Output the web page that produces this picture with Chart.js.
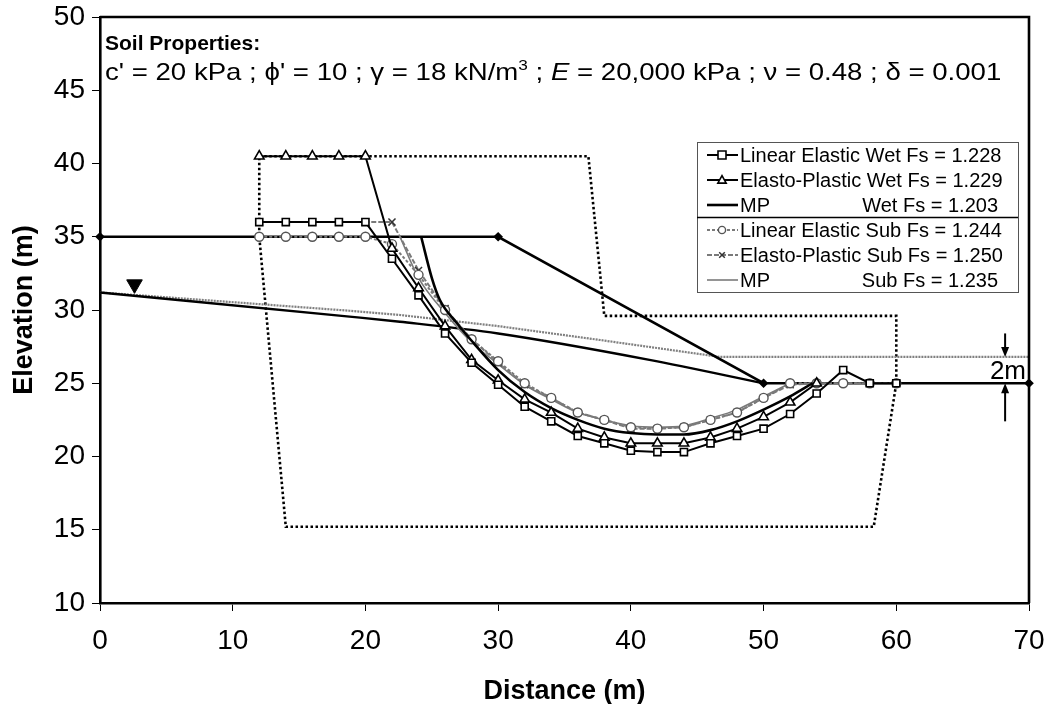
<!DOCTYPE html>
<html>
<head>
<meta charset="utf-8">
<script src="https://cdn.jsdelivr.net/npm/chart.js@4/dist/chart.umd.min.js"></script>
<style>
  html, body { margin: 0; padding: 0; background: #fff; }
  canvas { display: block; }
</style>
</head>
<body>
<canvas id="chart" width="1050" height="704"></canvas>
<script>
// Slip surfaces (distance m, elevation m)
const leWetX = [12, 14, 16, 18, 20, 22, 24, 26, 28, 30, 32, 34, 36, 38, 40, 42, 44, 46, 48, 50, 52, 54, 56, 58, 60];
const leWetY = [36, 36, 36, 36, 36, 33.5, 31, 28.4, 26.4, 24.9, 23.4, 22.4, 21.4, 20.9, 20.4, 20.3, 20.3, 20.9, 21.4, 21.9, 22.9, 24.3, 25.9, 25, 25];

const epWetX = [12, 14, 16, 18, 20, 22, 24, 26, 28, 30, 32, 34, 36, 38, 40, 42, 44, 46, 48, 50, 52, 54];
const epWetY = [40.5, 40.5, 40.5, 40.5, 40.5, 34.2, 31.5, 28.9, 26.6, 25.2, 23.9, 23.0, 21.9, 21.3, 20.9, 20.9, 20.9, 21.3, 21.9, 22.7, 23.7, 25];

const mpWetX = [24.2, 25, 25.6, 26.9, 28, 30, 32, 34, 36, 38, 40, 42, 44, 46, 48, 50, 52, 53.7];
const mpWetY = [35, 32.2, 30.7, 29.1, 27.9, 25.9, 24.4, 23.3, 22.5, 21.9, 21.6, 21.5, 21.5, 21.8, 22.4, 23.2, 24.1, 25];

const leSubX = [12, 14, 16, 18, 20, 22, 24, 26, 28, 30, 32, 34, 36, 38, 40, 42, 44, 46, 48, 50, 52, 54, 56, 58, 60];
const leSubY = [35, 35, 35, 35, 35, 34.5, 32.4, 30, 28, 26.5, 25, 24, 23, 22.5, 22, 21.9, 22, 22.5, 23, 24, 25, 25, 25, 25, 25];

const epSubX = [12, 14, 16, 18, 20, 22, 24, 26, 28, 30, 32, 34, 36, 38, 40, 42, 44, 46, 48, 50, 52, 54, 56, 58, 60];
const epSubY = [36, 36, 36, 36, 36, 36, 32.7, 30.1, 28, 26.4, 24.9, 24, 23, 22.5, 21.9, 21.9, 22, 22.5, 23, 24, 24.9, 25, 25, 25, 25];

const mpSubX = [22.6, 24, 26, 28, 30, 32, 34, 36, 38, 40, 42, 44, 46, 48, 50, 52];
const mpSubY = [35, 32.2, 29.8, 27.8, 26.3, 24.9, 23.9, 23.0, 22.5, 22.1, 22.0, 22.1, 22.6, 23.2, 24.1, 25];

// Slope geometry
const groundX = [0, 30, 50, 70];
const groundY = [35, 35, 25, 25];

const wtWetX = [0, 18.8, 22.6, 30, 41.4, 50];
const wtWetY = [31.2, 29.55, 29.2, 28.4, 26.6, 25];

const wtSubX = [0, 18.8, 22.6, 30, 37.7, 46.7, 70];
const wtSubY = [31.2, 29.95, 29.66, 28.9, 27.95, 26.8, 26.8];

const meshX = [12, 36.8, 38, 60, 60, 58.3, 14, 12, 12];
const meshY = [40.5, 40.5, 29.6, 29.6, 25, 15.2, 15.2, 35, 40.5];

const wtMarkX = [2.6];
const wtMarkY = [31.75];

const legendLabels = [
  ['Linear Elastic Wet Fs = 1.228'],
  ['Elasto-Plastic Wet Fs = 1.229'],
  ['MP', 'Wet Fs = 1.203'],
  ['Linear Elastic Sub Fs = 1.244'],
  ['Elasto-Plastic Sub Fs = 1.250'],
  ['MP', 'Sub Fs = 1.235']
];

const xTicks = [0, 10, 20, 30, 40, 50, 60, 70];
const yTicks = [10, 15, 20, 25, 30, 35, 40, 45, 50];

const FONT = '"Liberation Sans", Arial, sans-serif';
const GREY = '#7a7a7a';

const pts = (xs, ys) => xs.map((x, i) => ({ x, y: ys[i] }));

const slipSets = [
  { label: legendLabels[0], data: pts(leWetX, leWetY), borderColor: '#000', borderWidth: 2,
    pointStyle: 'rect', pointRadius: 5, pointBackgroundColor: '#fff', pointBorderColor: '#000', pointBorderWidth: 1.6 },
  { label: legendLabels[1], data: pts(epWetX, epWetY), borderColor: '#000', borderWidth: 2,
    pointStyle: 'triangle', pointRadius: 5.5, pointBackgroundColor: '#fff', pointBorderColor: '#000', pointBorderWidth: 1.6 },
  { label: legendLabels[2], data: pts(mpWetX, mpWetY), borderColor: '#000', borderWidth: 2.6,
    pointRadius: 0, cubicInterpolationMode: 'monotone' },
  { label: legendLabels[3], data: pts(leSubX, leSubY), borderColor: GREY, borderWidth: 2, borderDash: [3, 2],
    pointStyle: 'circle', pointRadius: 4.5, pointBackgroundColor: '#fff', pointBorderColor: '#555', pointBorderWidth: 1.4 },
  { label: legendLabels[4], data: pts(epSubX, epSubY), borderColor: GREY, borderWidth: 2, borderDash: [5, 2],
    pointStyle: 'crossRot', pointRadius: 5, pointBorderColor: '#333', pointBorderWidth: 1.5 },
  { label: legendLabels[5], data: pts(mpSubX, mpSubY), borderColor: GREY, borderWidth: 1.6,
    pointRadius: 0, cubicInterpolationMode: 'monotone' }
];

const geometrySets = [
  { label: ['ground'], data: pts(groundX, groundY), borderColor: '#000', borderWidth: 2.6,
    pointStyle: 'rectRot', pointRadius: 3, pointBackgroundColor: '#000', pointBorderColor: '#000', clip: 6 },
  { label: ['wt-wet'], data: pts(wtWetX, wtWetY), borderColor: '#000', borderWidth: 2.4, pointRadius: 0,
    cubicInterpolationMode: 'monotone' },
  { label: ['wt-sub'], data: pts(wtSubX, wtSubY), borderColor: '#808080', borderWidth: 2.2, pointRadius: 0,
    borderDash: [2, 1] },
  { label: ['mesh'], data: pts(meshX, meshY), borderColor: '#000', borderWidth: 2.6, borderDash: [2.5, 2.5],
    pointRadius: 0 },
  { label: ['wt-mark'], data: pts(wtMarkX, wtMarkY), showLine: false, pointStyle: 'triangle', pointRotation: 180,
    pointRadius: 9, pointBackgroundColor: '#000', pointBorderColor: '#000' }
];

// small legend marker, same shapes as on the chart
function marker(ctx, style, cx, cy, r) {
  ctx.beginPath();
  if (style === 'rect') {
    ctx.rect(cx - r, cy - r, 2 * r, 2 * r);
  } else if (style === 'triangle') {
    ctx.moveTo(cx, cy - r);
    ctx.lineTo(cx + r * 0.95, cy + r * 0.7);
    ctx.lineTo(cx - r * 0.95, cy + r * 0.7);
    ctx.closePath();
  } else if (style === 'circle') {
    ctx.arc(cx, cy, r, 0, Math.PI * 2);
  } else if (style === 'crossRot') {
    ctx.moveTo(cx - r * 0.7, cy - r * 0.7);
    ctx.lineTo(cx + r * 0.7, cy + r * 0.7);
    ctx.moveTo(cx + r * 0.7, cy - r * 0.7);
    ctx.lineTo(cx - r * 0.7, cy + r * 0.7);
  }
}

// Text block, legend, outer frame and the 2 m dimension arrows
const annotations = {
  id: 'annotations',
  afterDraw(chart) {
    const { ctx, chartArea: a, scales: { x, y } } = chart;
    ctx.save();

    // top and right frame
    ctx.strokeStyle = '#000';
    ctx.lineWidth = 2.6;
    ctx.beginPath();
    ctx.moveTo(a.left, a.top);
    ctx.lineTo(a.right, a.top);
    ctx.lineTo(a.right, a.bottom);
    ctx.stroke();

    // soil properties
    ctx.fillStyle = '#000';
    ctx.textBaseline = 'alphabetic';
    ctx.textAlign = 'left';
    ctx.font = 'bold 21px ' + FONT;
    ctx.fillText('Soil Properties:', a.left + 5, 50);
    // second line is set a little wide
    ctx.save();
    ctx.translate(a.left + 5, 80);
    ctx.scale(1.15, 1);
    let tx = 0;
    const parts = [
      ['c\' = 20 kPa ; \u03d5\' = 10 ; \u03b3 = 18 kN/m', '24px'],
      ['3', '15px', -10],
      [' ; ', '24px'],
      ['E', 'italic 24px'],
      [' = 20,000 kPa ; \u03bd = 0.48 ; \u03b4 = 0.001', '24px']
    ];
    parts.forEach(([t, f, dy]) => {
      ctx.font = f + ' ' + FONT;
      ctx.fillText(t, tx, dy || 0);
      tx += ctx.measureText(t).width;
    });
    ctx.restore();

    // legend
    const L = { left: 697, top: 142, right: 1018, bottom: 292, row: 25 };
    ctx.fillStyle = '#fff';
    ctx.fillRect(L.left, L.top, L.right - L.left, L.bottom - L.top);
    ctx.strokeStyle = '#555';
    ctx.lineWidth = 1;
    ctx.strokeRect(L.left + 0.5, L.top + 0.5, L.right - L.left, L.bottom - L.top);
    ctx.beginPath();
    ctx.moveTo(L.left, L.top + 75.5);
    ctx.lineTo(L.right, L.top + 75.5);
    ctx.lineWidth = 1.5;
    ctx.strokeStyle = '#000';
    ctx.stroke();

    ctx.font = '20px ' + FONT;
    ctx.textBaseline = 'middle';
    const textRight = 998;
    chart.data.datasets.slice(0, 6).forEach((ds, i) => {
      const cy = L.top + 13 + i * L.row;
      ctx.save();
      ctx.strokeStyle = ds.borderColor;
      ctx.lineWidth = ds.borderWidth;
      ctx.setLineDash(ds.borderDash || []);
      ctx.beginPath();
      ctx.moveTo(707, cy);
      ctx.lineTo(738, cy);
      ctx.stroke();
      ctx.setLineDash([]);
      if (ds.pointRadius > 0) {
        marker(ctx, ds.pointStyle, 722, cy, ds.pointRadius * 0.8);
        if (ds.pointBackgroundColor) {
          ctx.fillStyle = ds.pointBackgroundColor;
          ctx.fill();
        }
        ctx.strokeStyle = ds.pointBorderColor;
        ctx.lineWidth = ds.pointBorderWidth;
        ctx.stroke();
      }
      ctx.restore();
      ctx.fillStyle = '#000';
      ctx.textAlign = 'left';
      ctx.fillText(ds.label[0], 740, cy + 1);
      if (ds.label.length > 1) {
        ctx.textAlign = 'right';
        ctx.fillText(ds.label[1], textRight, cy + 1);
      }
    });

    // 2 m dimension arrows
    const ax = x.getPixelForValue(68.2);
    const top = y.getPixelForValue(26.8);
    const bot = y.getPixelForValue(25);
    const arrow = (yFrom, yTo) => {
      const dir = Math.sign(yTo - yFrom);
      ctx.strokeStyle = '#000';
      ctx.fillStyle = '#000';
      ctx.lineWidth = 2;
      ctx.beginPath();
      ctx.moveTo(ax, yFrom);
      ctx.lineTo(ax, yTo - dir * 8);
      ctx.stroke();
      ctx.beginPath();
      ctx.moveTo(ax, yTo);
      ctx.lineTo(ax - 4, yTo - dir * 10);
      ctx.lineTo(ax + 4, yTo - dir * 10);
      ctx.closePath();
      ctx.fill();
    };
    arrow(y.getPixelForValue(28.4), top);
    arrow(y.getPixelForValue(22.4), bot);
    ctx.font = '26px ' + FONT;
    ctx.textAlign = 'right';
    ctx.textBaseline = 'middle';
    ctx.fillText('2m', a.right - 3, (top + bot) / 2 + 2);

    ctx.restore();
  }
};

new Chart(document.getElementById('chart'), {
  type: 'scatter',
  data: { datasets: [...slipSets, ...geometrySets] },
  plugins: [annotations],
  options: {
    responsive: false,
    animation: false,
    showLine: true,
    layout: { padding: { top: 17, right: 21, left: 0, bottom: 0 } },
    elements: { line: { tension: 0, fill: false } },
    plugins: { legend: { display: false }, tooltip: { enabled: false } },
    scales: {
      x: {
        type: 'linear', min: 0, max: 70,
        afterBuildTicks: s => { s.ticks = xTicks.map(v => ({ value: v })); },
        afterFit: s => { s.height = 101; s.paddingLeft = 0; s.paddingRight = 0; },
        ticks: { color: '#000', font: { family: FONT, size: 28 }, padding: 13, maxRotation: 0 },
        grid: { drawOnChartArea: false, drawTicks: true, tickLength: 8, color: '#000', lineWidth: 1 },
        border: { color: '#000', width: 2.6 },
        title: { display: true, text: 'Distance (m)', color: '#000',
          font: { family: FONT, size: 27, weight: 'bold' }, padding: { top: 0, bottom: -4 } }
      },
      y: {
        type: 'linear', min: 10, max: 50,
        afterBuildTicks: s => { s.ticks = yTicks.map(v => ({ value: v })); },
        afterFit: s => { s.width = 100; s.paddingTop = 0; s.paddingBottom = 0; },
        ticks: { color: '#000', font: { family: FONT, size: 28 }, padding: 7 },
        grid: { drawOnChartArea: false, drawTicks: true, tickLength: 8, color: '#000', lineWidth: 1 },
        border: { color: '#000', width: 2.6 },
        title: { display: true, text: 'Elevation (m)', color: '#000',
          font: { family: FONT, size: 27, weight: 'bold' }, padding: { top: 8, bottom: 0 } }
      }
    }
  }
});
</script>
</body>
</html>
